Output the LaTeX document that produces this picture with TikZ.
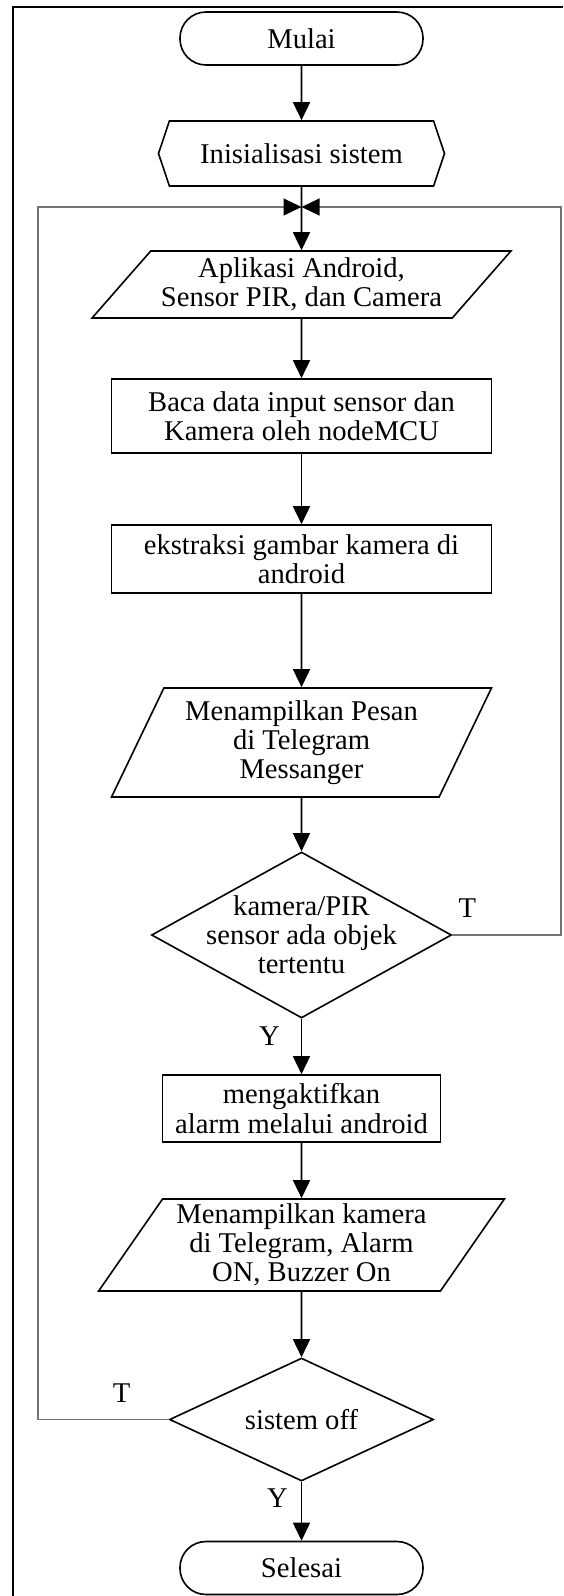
\documentclass[tikz,border=0pt]{standalone}
\usepackage{fontspec}
\setmainfont{Liberation Serif}
\usepackage{tikz}
\usetikzlibrary{arrows.meta,shapes.geometric,shapes.symbols,positioning}
\tikzstyle{terminal} = [rectangle, draw, rounded corners=13pt,
    minimum width=121.5pt, minimum height=26.5pt]
\tikzstyle{prep} = [signal, signal to=east and west, signal pointer angle=143,
    draw, minimum width=143pt, minimum height=32.5pt]
\tikzstyle{block} = [rectangle, draw, minimum width=190pt, align=center]
\tikzstyle{io} = [trapezium, draw, trapezium stretches=true, align=center, inner sep=1pt]
\tikzstyle{decision} = [diamond, draw, align=center, inner xsep=-5pt, inner ysep=-3pt]
\tikzstyle{line} = [draw, -{Triangle[length=9pt,width=8.5pt]}]
\tikzstyle{back} = [draw, black!55, line width=0.6pt,
    -{Triangle[length=9pt,width=8.5pt,color=black]}]
\tikzstyle{lbl} = [inner sep=0pt]

\begin{document}
\begin{tikzpicture}[node distance=60pt, auto, line width=0.8pt]
\tikzstyle{every node}=[font=\fontsize{14.3}{14.6}\selectfont]
\useasboundingbox (0,0) rectangle (281.5pt,-798pt);
    % Frame
    \draw (6.5pt,-798pt) -- (6.5pt,-3.5pt) -- (281.5pt,-3.5pt);
    % Place nodes
    \node [terminal] (mulai) at (150.75pt,-19.25pt) {Mulai};
    \node [prep, below of=mulai, node distance=57.5pt] (init) {Inisialisasi sistem};
    \coordinate [below of=init, node distance=26.75pt] (join);
    \coordinate [right of=join, node distance=129.75pt] (kanan);
    \coordinate [left of=join, node distance=131.75pt] (kiri);
    \node [io, trapezium left angle=46, trapezium right angle=134, minimum width=210pt,
        minimum height=33.5pt, below of=init, node distance=65.5pt] (input)
        {Aplikasi Android,\\ Sensor PIR, dan Camera};
    \node [block, minimum height=37pt, below of=input, node distance=65.75pt] (baca)
        {Baca data input sensor dan\\ Kamera oleh nodeMCU};
    \node [block, minimum height=34pt, below of=baca, node distance=71.5pt] (ekstrak)
        {ekstraksi gambar kamera di\\ android};
    \node [io, trapezium left angle=63, trapezium right angle=117, minimum width=190pt,
        minimum height=54.5pt, below of=ekstrak, node distance=91.75pt] (pesan)
        {Menampilkan Pesan\\ di Telegram\\ Messanger};
    \node [decision, aspect=1.8, minimum width=150pt, minimum height=83pt, below of=pesan,
        node distance=96.25pt] (cek) {kamera/PIR\\ sensor ada objek\\ tertentu};
    \node [block, minimum width=139pt, minimum height=33.5pt, below of=cek,
        node distance=86.75pt] (alarm) {mengaktifkan\\ alarm melalui android};
    \node [io, trapezium left angle=56, trapezium right angle=124, minimum width=203pt,
        minimum height=46pt, below of=alarm, node distance=68.25pt] (tampil)
        {Menampilkan kamera\\ di Telegram, Alarm\\ ON, Buzzer On};
    \node [decision, aspect=2.15, minimum width=132pt, minimum height=61.5pt, below of=tampil,
        node distance=87.25pt] (off) {sistem off};
    \node [terminal, below of=off, node distance=74.25pt] (selesai) {Selesai};

    % Labels
    \node [lbl] (t1) at ([xshift=7.5pt,yshift=13.5pt]cek.east) {T};
    \node [lbl] (y1) at ([xshift=-16pt,yshift=-8.5pt]cek.south) {Y};
    \node [lbl] (t2) at ([xshift=-23.5pt,yshift=13.25pt]off.west) {T};
    \node [lbl] (y2) at ([xshift=-12pt,yshift=-8pt]off.south) {Y};

    % Draw edges
    \path [line] (mulai) -- (init);
    \draw (init) -- (join);
    \path [line] (join) -- (input);
    \path [line] (input) -- (baca);
    \path [line] (baca) -- (ekstrak);
    \path [line] (ekstrak) -- (pesan);
    \path [line] (pesan) -- (cek);
    \path [line] (cek) -- (alarm);
    \path [line] (alarm) -- (tampil);
    \path [line] (tampil) -- (off);
    \path [line] (off) -- (selesai);
    \path [back] (cek.east) -| (kanan) -- (join);
    \path [back] (off.west) -| (kiri) -- (join);

\end{tikzpicture}
\end{document}
